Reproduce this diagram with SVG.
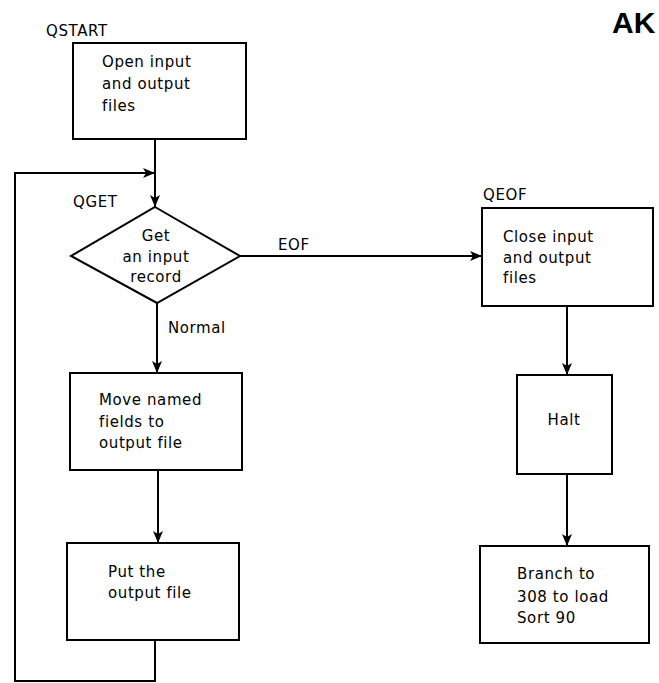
<svg xmlns="http://www.w3.org/2000/svg" width="659" height="683" viewBox="0 0 659 683">
<defs>
<style>
.box{fill:#fff;stroke:#000;stroke-width:2}
.ln{fill:none;stroke:#000;stroke-width:2}
text{font-family:"DejaVu Sans","Liberation Sans",sans-serif;font-size:15px;fill:#000;letter-spacing:0.6px}
.c{text-anchor:middle}
.ak{font-family:"Liberation Sans",Arial,sans-serif;font-weight:bold;font-size:30px;letter-spacing:0}
</style>
<marker id="arr" markerWidth="12" markerHeight="10" refX="12" refY="5" orient="auto" markerUnits="userSpaceOnUse">
<path d="M0,0 L12,5 L0,10 L3,5 Z" fill="#000"/>
</marker>
</defs>
<rect width="659" height="683" fill="#fff"/>
<text class="ak" x="612" y="33">AK</text>
<g id="connectors">
<path class="ln" d="M155,139 V207" marker-end="url(#arr)"/>
<path class="ln" d="M155,640 V681 H15 V173 H155" marker-end="url(#arr)"/>
<path class="ln" d="M240,256 H482" marker-end="url(#arr)"/>
<path class="ln" d="M157,303 V373" marker-end="url(#arr)"/>
<path class="ln" d="M158,470 V543" marker-end="url(#arr)"/>
<path class="ln" d="M567,306 V375" marker-end="url(#arr)"/>
<path class="ln" d="M567,474 V546" marker-end="url(#arr)"/>
<text x="278" y="250">EOF</text>
<text x="168" y="333">Normal</text>
</g>
<g id="qstart">
<text x="46" y="36">QSTART</text>
<rect class="box" x="73" y="43" width="173" height="96"/>
<text x="102" y="67">Open input</text>
<text x="102" y="89">and output</text>
<text x="102" y="111">files</text>
</g>
<g id="qget">
<text x="73" y="207">QGET</text>
<path class="box" d="M155,207 L240,256 L157,303 L71,256 Z"/>
<text class="c" x="156" y="241">Get</text>
<text class="c" x="156" y="262">an input</text>
<text class="c" x="156" y="282">record</text>
</g>
<g id="move">
<rect class="box" x="70" y="373" width="172" height="97"/>
<text x="99" y="405">Move named</text>
<text x="99" y="427">fields to</text>
<text x="99" y="448">output file</text>
</g>
<g id="put">
<rect class="box" x="67" y="543" width="172" height="97"/>
<text x="108" y="577">Put the</text>
<text x="108" y="598">output file</text>
</g>
<g id="qeof">
<text x="483" y="200">QEOF</text>
<rect class="box" x="482" y="208" width="171" height="98"/>
<text x="503" y="242">Close input</text>
<text x="503" y="263">and output</text>
<text x="503" y="283">files</text>
</g>
<g id="halt">
<rect class="box" x="517" y="375" width="95" height="99"/>
<text class="c" x="564" y="425">Halt</text>
</g>
<g id="branch">
<rect class="box" x="480" y="546" width="169" height="97"/>
<text x="517" y="579">Branch to</text>
<text x="517" y="602">308 to load</text>
<text x="517" y="623">Sort 90</text>
</g>
</svg>
